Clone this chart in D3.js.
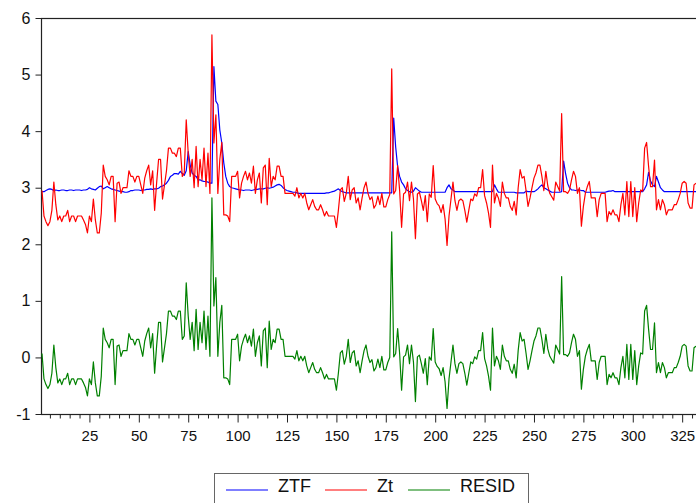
<!DOCTYPE html>
<html>
<head>
<meta charset="utf-8">
<script src="https://cdn.jsdelivr.net/npm/d3@7"></script>
<style>
  body { margin: 0; background: #fff; }
  svg { display: block; font-family: "Liberation Sans", Arial, sans-serif; }
</style>
</head>
<body>
<div id="chart"></div>
<script>
const zt = [
  2.95, 2.5, 2.4, 2.33, 2.4, 2.6, 3.1, 2.7, 2.43, 2.5,
  2.4, 2.5, 2.5, 2.6, 2.4, 2.5, 2.5, 2.4, 2.5, 2.5,
  2.5, 2.43, 2.35, 2.2, 2.5, 2.4, 2.8, 2.43, 2.2, 2.2,
  2.55, 3.4, 3.2, 3.14, 3.05, 3.2, 3.2, 2.4, 3.08, 3.1,
  2.9, 3.0, 3.0, 3.0, 3.3, 3.2, 3.2, 3.1, 3.2, 3.2,
  3.05, 2.9, 3.17, 3.3, 3.4, 3.05, 3.3, 2.6, 3.08, 3.5,
  3.5, 2.8, 3.05, 3.3, 3.7, 3.7, 3.61, 3.61, 3.55, 3.7,
  3.7, 3.2, 3.26, 4.2, 3.61, 3.2, 3.5, 3.0, 3.73, 3.02,
  3.5, 3.14, 3.7, 3.02, 3.61, 2.9, 5.7, 3.79, 4.29, 2.9,
  3.5, 3.8, 2.52, 2.52, 2.5, 2.4, 3.2, 3.2, 3.2, 3.29,
  2.82, 3.08, 3.2, 3.29, 3.14, 3.26, 3.08, 3.38, 2.9, 3.14,
  3.26, 2.73, 3.35, 3.4, 2.7, 3.52, 3.02, 3.2, 3.14, 3.38,
  3.38, 3.2, 3.2, 2.9, 2.9, 2.9, 2.9, 2.9, 2.85, 3.0,
  2.82, 2.9, 2.82, 2.9, 2.73, 2.61, 2.7, 2.79, 2.67, 2.61,
  2.61, 2.7, 2.61, 2.5, 2.58, 2.5, 2.5, 2.5, 2.5, 2.3,
  2.6, 2.96, 3.0, 2.76, 2.9, 3.2, 2.79, 2.96, 3.0, 2.73,
  2.82, 2.61, 2.82, 3.0, 3.1, 2.9, 2.79, 2.84, 2.64, 2.7,
  2.85, 2.7, 2.9, 2.66, 2.66, 2.79, 2.88, 5.1, 2.89, 2.95,
  3.39, 2.95, 2.3, 2.89, 2.92, 3.1, 2.77, 3.1, 2.8, 2.1,
  2.89, 2.92, 2.77, 2.6, 2.86, 2.4, 2.89, 2.83, 3.39, 2.8,
  2.72, 2.68, 2.56, 2.7, 2.45, 1.98, 2.5, 2.8, 3.1, 2.77,
  2.6, 2.77, 2.8, 2.77, 2.6, 2.39, 2.6, 2.8, 2.77, 2.89,
  2.85, 3.0, 3.0, 3.32, 2.86, 2.73, 2.55, 2.3, 3.4, 2.73,
  2.9, 2.82, 2.67, 3.1, 2.9, 2.82, 2.82, 2.67, 2.6, 2.76,
  2.52, 3.0, 3.32, 3.17, 3.2, 2.95, 2.67, 2.82, 3.0, 3.17,
  3.26, 3.4, 3.4, 3.2, 2.95, 3.29, 3.03, 2.9, 2.84, 2.78,
  3.1, 3.02, 2.94, 4.31, 2.93, 2.93, 2.9, 2.96, 3.14, 3.29,
  3.2, 2.9, 3.0, 2.32, 2.67, 2.9, 3.02, 3.11, 2.82, 2.82,
  2.82, 2.49, 2.79, 2.9, 2.9, 2.9, 2.4, 2.58, 2.52, 2.61,
  2.52, 2.52, 2.4, 2.7, 2.9, 2.52, 3.11, 2.49, 3.11, 2.49,
  3.0, 2.4, 2.73, 2.96, 2.94, 3.7, 3.8, 3.38, 3.02, 3.02,
  3.49, 2.61, 2.79, 2.61, 2.79, 2.7, 2.52, 2.61, 2.61, 2.61,
  2.7, 2.7, 2.79, 2.9, 3.08, 3.11, 3.08, 2.73, 2.64, 2.64,
  3.05, 3.08
];

const ztf = [
  2.93, 2.93, 2.95, 2.97, 2.98, 2.97, 2.95, 2.96, 2.95, 2.95,
  2.96, 2.96, 2.95, 2.95, 2.96, 2.96, 2.95, 2.96, 2.96, 2.96,
  2.95, 2.96, 2.96, 2.97, 3.0, 2.98, 2.97, 2.96, 2.99, 3.02,
  3.03, 2.98, 3.0, 3.02, 3.0, 2.98, 2.97, 2.96, 2.95, 2.94,
  2.93, 2.93, 2.92, 2.92, 2.93, 2.95, 2.95, 2.96, 2.96, 2.96,
  2.95, 2.96, 2.96, 2.97, 2.97, 2.98, 2.97, 2.98, 2.98, 2.99,
  3.02, 3.03, 3.05, 3.08, 3.13, 3.2, 3.22, 3.25, 3.25, 3.24,
  3.29, 3.25, 3.22, 3.3, 3.64, 3.4, 3.26, 3.22, 3.2, 3.14,
  3.14, 3.12, 3.11, 3.11, 3.1, 3.08, 3.08, 5.14, 4.53, 4.47,
  4.02, 3.79, 3.44, 3.2, 3.08, 3.02, 3.0, 2.99, 2.98, 2.97,
  2.96, 2.96, 2.95, 2.96, 2.96, 2.96, 2.95, 2.96, 2.97, 2.97,
  2.98, 2.98, 2.98, 2.99, 3.0, 2.99, 3.0, 3.01, 3.03, 3.05,
  3.06, 3.04, 3.0, 2.97, 2.95, 2.94, 2.93, 2.92, 2.92, 2.91,
  2.9, 2.9, 2.9, 2.9, 2.9, 2.9, 2.9, 2.9, 2.9, 2.9,
  2.9, 2.9, 2.9, 2.9, 2.91, 2.91, 2.92, 2.93, 2.94, 2.96,
  2.98, 2.95, 2.93, 2.92, 2.91, 2.91, 2.91, 2.91, 2.91, 2.91,
  2.91, 2.91, 2.91, 2.91, 2.91, 2.91, 2.91, 2.91, 2.91, 2.91,
  2.91, 2.91, 2.91, 2.91, 2.91, 2.91, 2.91, 2.91, 4.23, 3.72,
  3.37, 3.2, 3.1, 3.05, 2.98, 2.95, 2.93, 2.92, 2.94, 3.0,
  2.97, 2.94, 2.92, 2.92, 2.92, 2.92, 2.92, 2.92, 2.92, 2.92,
  2.92, 2.92, 2.92, 2.92, 2.92, 3.0, 3.05, 2.98, 2.96, 2.93,
  2.93, 2.93, 2.93, 2.93, 2.93, 2.93, 2.93, 2.93, 2.93, 2.93,
  2.93, 2.93, 2.93, 2.93, 2.93, 2.93, 2.93, 2.93, 2.93, 3.05,
  2.98, 2.92, 2.92, 2.92, 2.92, 2.92, 2.92, 2.92, 2.92, 2.92,
  2.91, 2.91, 2.91, 2.91, 2.91, 2.94, 2.93, 2.93, 2.93, 2.93,
  2.95, 2.98, 3.02, 3.05, 3.0, 2.98, 2.96, 2.94, 2.92, 2.92,
  2.92, 2.92, 2.92, 2.93, 3.47, 3.25, 3.08, 3.0, 2.96, 2.96,
  2.95, 2.96, 2.96, 2.95, 2.95, 2.92, 2.92, 2.92, 2.92, 2.92,
  2.92, 2.92, 2.92, 2.92, 2.92, 2.92, 2.93, 2.94, 2.94, 2.95,
  2.93, 2.93, 2.93, 2.93, 2.93, 2.93, 2.93, 2.93, 2.93, 2.93,
  2.93, 2.93, 2.93, 2.93, 2.93, 2.98, 3.05, 3.27, 3.12, 3.05,
  3.02, 3.2, 3.1, 3.0, 2.96, 2.93, 2.93, 2.93, 2.93, 2.93,
  2.93, 2.93, 2.93, 2.93, 2.93, 2.93, 2.93, 2.93, 2.93, 2.93,
  2.93, 2.93
];

const resid = [
  0.07, -0.38, -0.48, -0.55, -0.48, -0.28, 0.22, -0.18, -0.45, -0.38,
  -0.48, -0.38, -0.38, -0.28, -0.48, -0.38, -0.38, -0.48, -0.38, -0.38,
  -0.38, -0.45, -0.53, -0.68, -0.38, -0.48, -0.08, -0.45, -0.68, -0.68,
  -0.33, 0.52, 0.32, 0.26, 0.17, 0.32, 0.32, -0.48, 0.20, 0.22,
  0.02, 0.12, 0.12, 0.12, 0.42, 0.32, 0.32, 0.22, 0.32, 0.32,
  0.17, 0.02, 0.29, 0.42, 0.52, 0.17, 0.42, -0.28, 0.20, 0.62,
  0.62, -0.08, 0.17, 0.42, 0.82, 0.82, 0.73, 0.73, 0.67, 0.82,
  0.82, 0.32, 0.38, 1.32, 0.73, 0.32, 0.62, 0.12, 0.85, 0.14,
  0.62, 0.26, 0.82, 0.14, 0.73, 0.02, 2.82, 0.91, 1.41, 0.02,
  0.62, 0.92, -0.36, -0.36, -0.38, -0.48, 0.32, 0.32, 0.32, 0.41,
  -0.06, 0.20, 0.32, 0.41, 0.26, 0.38, 0.20, 0.50, 0.02, 0.26,
  0.38, -0.15, 0.47, 0.52, -0.18, 0.64, 0.14, 0.32, 0.26, 0.50,
  0.50, 0.32, 0.32, 0.02, 0.02, 0.02, 0.02, 0.02, -0.03, 0.12,
  -0.06, 0.02, -0.06, 0.02, -0.15, -0.27, -0.18, -0.09, -0.21, -0.27,
  -0.27, -0.18, -0.27, -0.38, -0.30, -0.38, -0.38, -0.38, -0.38, -0.58,
  -0.28, 0.08, 0.12, -0.12, 0.02, 0.32, -0.09, 0.08, 0.12, -0.15,
  -0.06, -0.27, -0.06, 0.12, 0.22, 0.02, -0.09, -0.04, -0.24, -0.18,
  -0.03, -0.18, 0.02, -0.22, -0.22, -0.09, 0.00, 2.22, 0.01, 0.07,
  0.51, 0.07, -0.58, 0.01, 0.04, 0.22, -0.11, 0.22, -0.08, -0.78,
  0.01, 0.04, -0.11, -0.28, -0.02, -0.48, 0.01, -0.05, 0.51, -0.08,
  -0.16, -0.20, -0.32, -0.18, -0.43, -0.90, -0.38, -0.08, 0.22, -0.11,
  -0.28, -0.11, -0.08, -0.11, -0.28, -0.49, -0.28, -0.08, -0.11, 0.01,
  -0.03, 0.12, 0.12, 0.44, -0.02, -0.15, -0.33, -0.58, 0.52, -0.15,
  0.02, -0.06, -0.21, 0.22, 0.02, -0.06, -0.06, -0.21, -0.28, -0.12,
  -0.36, 0.12, 0.44, 0.29, 0.32, 0.07, -0.21, -0.06, 0.12, 0.29,
  0.38, 0.52, 0.52, 0.32, 0.07, 0.41, 0.15, 0.02, -0.04, -0.10,
  0.22, 0.14, 0.06, 1.43, 0.05, 0.05, 0.02, 0.08, 0.26, 0.41,
  0.32, 0.02, 0.12, -0.56, -0.21, 0.02, 0.14, 0.23, -0.06, -0.06,
  -0.06, -0.39, -0.09, 0.02, 0.02, 0.02, -0.48, -0.30, -0.36, -0.27,
  -0.36, -0.36, -0.48, -0.18, 0.02, -0.36, 0.23, -0.39, 0.23, -0.39,
  0.12, -0.48, -0.15, 0.08, 0.06, 0.82, 0.92, 0.50, 0.14, 0.14,
  0.61, -0.27, -0.09, -0.27, -0.09, -0.18, -0.36, -0.27, -0.27, -0.27,
  -0.18, -0.18, -0.09, 0.02, 0.20, 0.23, 0.20, -0.15, -0.24, -0.24,
  0.17, 0.20
];

const seriesNames = ['ZTF', 'Zt', 'RESID'];
const seriesColors = ['#0000ff', '#ff0000', '#008000'];
const yTicks = [-1, 0, 1, 2, 3, 4, 5, 6];
const xMajor = [25, 50, 75, 100, 125, 150, 175, 200, 225, 250, 275, 300, 325];

const W = 696, H = 503;
const plotLeft = 42, plotTop = 18, plotBottom = 414;

const svg = d3.select('#chart').append('svg')
  .attr('width', W)
  .attr('height', H);

svg.append('rect').attr('width', W).attr('height', H).attr('fill', '#fff');

const x = d3.scaleLinear().domain([1, zt.length]).range([plotLeft, 696]);
const y = d3.scaleLinear().domain([-1, 6]).range([plotBottom, plotTop]);

// plot frame (right side runs off the picture)
svg.append('rect')
  .attr('x', plotLeft - 0.5)
  .attr('y', plotTop + 0.5)
  .attr('width', 720 - plotLeft)
  .attr('height', plotBottom - plotTop)
  .attr('fill', 'none')
  .attr('stroke', '#222')
  .attr('stroke-width', 1.2);

// series
const data = [ztf, zt, resid];
const line = d3.line()
  .x((d, i) => x(i + 1))
  .y(d => y(d));

data.forEach((s, k) => {
  svg.append('path')
    .datum(s)
    .attr('d', line)
    .attr('fill', 'none')
    .attr('stroke', seriesColors[k])
    .attr('stroke-width', 1.2)
    .attr('stroke-linejoin', 'round');
});

// y axis (plain hyphen for the negative label, as in the original)
const yAxis = svg.append('g')
  .attr('transform', `translate(${plotLeft - 0.5},0)`)
  .call(d3.axisLeft(y).tickValues(yTicks).tickSize(6).tickPadding(5).tickFormat(d => String(d)));
yAxis.select('.domain').remove();
yAxis.selectAll('line').attr('stroke', '#222');
yAxis.selectAll('text').attr('font-size', 16).attr('fill', '#111')
  .attr('font-family', '"Liberation Sans", Arial, sans-serif');

// x axis: minor ticks every 5, labelled majors every 25
const xMinor = d3.range(5, zt.length + 1, 5).filter(v => xMajor.indexOf(v) < 0);
const xMin = svg.append('g')
  .attr('transform', `translate(0,${plotBottom + 0.5})`)
  .call(d3.axisBottom(x).tickValues(xMinor).tickSize(4).tickFormat(''));
xMin.select('.domain').remove();
xMin.selectAll('line').attr('stroke', '#222');

const xMaj = svg.append('g')
  .attr('transform', `translate(0,${plotBottom + 0.5})`)
  .call(d3.axisBottom(x).tickValues(xMajor).tickSize(8).tickPadding(8).tickFormat(d => String(d)));
xMaj.select('.domain').remove();
xMaj.selectAll('line').attr('stroke', '#222');
xMaj.selectAll('text').attr('font-size', 15).attr('fill', '#111')
  .attr('font-family', '"Liberation Sans", Arial, sans-serif');

// legend
const leg = svg.append('g');
leg.append('rect')
  .attr('x', 214.5).attr('y', 473.5)
  .attr('width', 314).attr('height', 40)
  .attr('fill', '#fff')
  .attr('stroke', '#666');

const legX = [226, 325, 408];
seriesNames.forEach((name, k) => {
  leg.append('line')
    .attr('x1', legX[k]).attr('x2', legX[k] + 42)
    .attr('y1', 490).attr('y2', 490)
    .attr('stroke', seriesColors[k])
    .attr('stroke-width', 1.2);
  leg.append('text')
    .attr('x', legX[k] + 52)
    .attr('y', 492)
    .attr('font-size', 18)
    .attr('fill', '#111')
    .text(name);
});
</script>
</body>
</html>
